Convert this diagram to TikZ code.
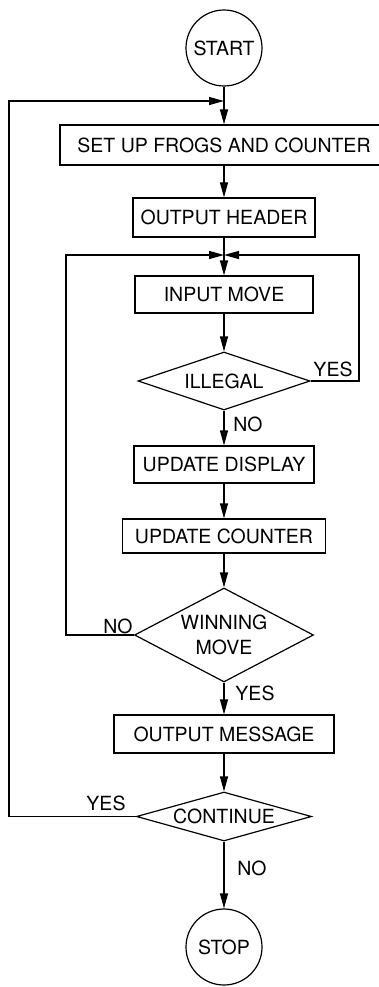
\documentclass[tikz,border=0pt]{standalone}
\usepackage{fontspec}
\setmainfont{TeX Gyre Heros}
\usepackage{tikz}
\usetikzlibrary{shapes, arrows.meta, positioning, calc}

\begin{document}
\begin{tikzpicture}[x=1pt, y=-1pt, line width=1.2pt,
  every node/.style={font=\fontsize{19.5}{22}\selectfont},
  box/.style={draw, rectangle, minimum height=37pt, inner sep=0pt},
  term/.style={draw, circle, minimum size=76pt, inner sep=0pt},
  test/.style={draw, diamond, inner sep=0pt, align=center},
  flow/.style={-{Triangle[length=15pt, width=8pt]}},
  tag/.style={inner sep=0pt}]
  \useasboundingbox (0,0) rectangle (379,987);
  \node[term] (start) at (224,48) {START};
  \node[box, minimum width=328pt, minimum height=40pt] (setup) at (224,145) {SET UP FROGS AND COUNTER};
  \node[box, minimum width=182pt, minimum height=39pt] (header) at (224,217.5) {OUTPUT HEADER};
  \node[box, minimum width=178pt] (move) at (224,294.5) {INPUT MOVE};
  \node[test, minimum width=172pt, minimum height=58pt, aspect=3] (illegal) at (224,381) {ILLEGAL};
  \node[box, minimum width=180pt] (display) at (224,464.5) {UPDATE DISPLAY};
  \node[box, minimum width=203pt, minimum height=34pt] (counter) at (224,536) {UPDATE COUNTER};
  \node[test, minimum width=179pt, minimum height=94pt, aspect=2] (win) at (224,635) {WINNING\\[3pt]MOVE};
  \node[box, minimum width=220pt, minimum height=38pt] (message) at (224,734) {OUTPUT MESSAGE};
  \node[test, minimum width=175pt, minimum height=49pt, aspect=3.5] (cont) at (224,816.5) {CONTINUE};
  \node[term] (stop) at (224,947) {STOP};

  \coordinate (topjoin) at (224,101);
  \coordinate (outer) at (9,101);
  \coordinate (midjoin) at (224,255);
  \coordinate (leftloop) at (66,255);
  \coordinate (rightloop) at (359,255);

  \draw[flow] (start) -- (setup);
  \draw[flow] (setup) -- (header);
  \draw[flow] (header) -- (move);
  \draw[flow] (move) -- (illegal);
  \draw[flow] (illegal) -- (display);
  \draw[flow] (display) -- (counter);
  \draw[flow] (counter) -- (win);
  \draw[flow] (win) -- (message);
  \draw[flow] (message) -- (cont);
  \draw[flow] (cont) -- (stop);
  \draw[flow] (illegal.east) -| (rightloop) -- (midjoin);
  \draw[flow] (win.west) -| (leftloop) -- (midjoin);
  \draw[flow] (cont.west) -| (outer) -- (topjoin);

  \node[tag] (yes1) at (333,369) {YES};
  \node[tag] (no1) at (248,424) {NO};
  \node[tag] (no2) at (118,626) {NO};
  \node[tag] (yes2) at (255,693) {YES};
  \node[tag] (yes3) at (106,803) {YES};
  \node[tag] (no3) at (252,868) {NO};
\end{tikzpicture}
\end{document}
